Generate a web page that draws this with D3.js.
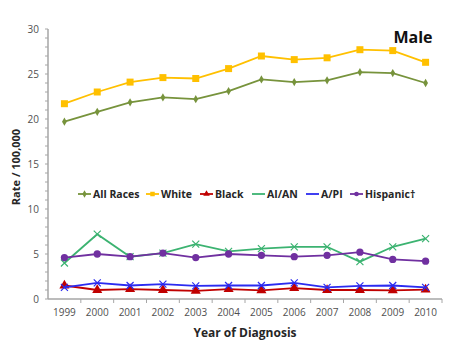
<!DOCTYPE html>
<html>
<head>
<meta charset="utf-8">
<script src="https://cdn.jsdelivr.net/npm/d3@7"></script>
<style>
  body { margin: 0; background: #fff; }
  svg { display: block; font-family: "Open Sans", "Liberation Sans", sans-serif; }
</style>
</head>
<body>
<div id="main"></div>
<script>
// incidence rates by race/ethnicity, males
var years = ["1999","2000","2001","2002","2003","2004","2005","2006","2007","2008","2009","2010"];
var allRaces = [19.7, 20.8, 21.85, 22.4, 22.2, 23.1, 24.4, 24.1, 24.3, 25.2, 25.1, 24.0];
var white    = [21.7, 23.0, 24.1, 24.6, 24.5, 25.6, 27.0, 26.6, 26.8, 27.7, 27.6, 26.3];
var black    = [1.5, 1.0, 1.1, 1.0, 0.9, 1.1, 0.95, 1.2, 1.0, 1.0, 0.95, 1.05];
var aian     = [4.0, 7.2, 4.7, 5.1, 6.1, 5.3, 5.6, 5.8, 5.8, 4.15, 5.8, 6.7];
var api      = [1.3, 1.8, 1.5, 1.65, 1.45, 1.5, 1.5, 1.8, 1.3, 1.45, 1.5, 1.3];
var hispanic = [4.6, 5.0, 4.7, 5.1, 4.6, 5.0, 4.85, 4.7, 4.85, 5.2, 4.4, 4.2];
var yTicks = [0, 5, 10, 15, 20, 25, 30];

var series = [
  {name: "All Races", values: allRaces, color: "#77933c", marker: "diamond"},
  {name: "White", values: white, color: "#ffc000", marker: "square"},
  {name: "Black", values: black, color: "#c00000", marker: "triangle"},
  {name: "AI/AN", values: aian, color: "#3cb371", marker: "cross"},
  {name: "A/PI", values: api, color: "#2b2bf0", marker: "cross"},
  {name: "Hispanic\u2020", values: hispanic, color: "#7030a0", marker: "circle"}
];

var width = 455, height = 349;
var margin = {top: 29, right: 13, bottom: 50, left: 48};

var svg = d3.select("#main").append("svg")
  .attr("width", width)
  .attr("height", height);

var x = d3.scaleBand()
  .domain(years)
  .range([margin.left, width - margin.right]);

var y = d3.scaleLinear()
  .domain([0, 30])
  .range([height - margin.bottom, margin.top]);

// y axis with minor ticks every unit
var yAxis = svg.append("g").attr("transform", "translate(" + margin.left + ",0)");
yAxis.append("line")
  .attr("x1", 0).attr("x2", 0)
  .attr("y1", y(0)).attr("y2", y(30))
  .attr("stroke", "#a6a6a6").attr("stroke-width", 1.5);
yAxis.selectAll("line.minor")
  .data(d3.range(0, 31))
  .join("line")
  .attr("class", "minor")
  .attr("x1", -3).attr("x2", 0)
  .attr("y1", d => y(d)).attr("y2", d => y(d))
  .attr("stroke", "#a6a6a6");
yAxis.selectAll("text")
  .data(yTicks)
  .join("text")
  .attr("x", -9)
  .attr("y", d => y(d))
  .attr("dy", "0.35em")
  .attr("text-anchor", "end")
  .attr("font-size", 10)
  .attr("fill", "#505050")
  .text(d => d);

// x axis, ticks sit between categories
var xAxis = svg.append("g").attr("transform", "translate(0," + y(0) + ")");
xAxis.append("line")
  .attr("x1", margin.left).attr("x2", width - margin.right)
  .attr("stroke", "#a6a6a6").attr("stroke-width", 1.5);
xAxis.selectAll("line.tick")
  .data(years)
  .join("line")
  .attr("class", "tick")
  .attr("x1", d => x(d) + x.bandwidth())
  .attr("x2", d => x(d) + x.bandwidth())
  .attr("y1", 0).attr("y2", 4)
  .attr("stroke", "#a6a6a6");
xAxis.selectAll("text")
  .data(years)
  .join("text")
  .attr("x", d => x(d) + x.bandwidth() / 2)
  .attr("y", 17)
  .attr("text-anchor", "middle")
  .attr("font-size", 10)
  .attr("fill", "#505050")
  .text(d => d);

// axis titles
svg.append("text")
  .attr("transform", "translate(20," + (y(15) + 3) + ") rotate(-90)")
  .attr("text-anchor", "middle")
  .attr("font-size", 11)
  .attr("font-weight", "bold")
  .attr("fill", "#262626")
  .text("Rate / 100,000");

svg.append("text")
  .attr("x", 245)
  .attr("y", 337)
  .attr("text-anchor", "middle")
  .attr("font-size", 12)
  .attr("font-weight", "bold")
  .attr("fill", "#262626")
  .text("Year of Diagnosis");

svg.append("text")
  .attr("x", 413)
  .attr("y", 43)
  .attr("text-anchor", "middle")
  .attr("font-size", 16)
  .attr("font-weight", "bold")
  .attr("fill", "#111")
  .text("Male");

// marker shapes
function drawMarker(g, type, color, size) {
  if (type === "cross") {
    var s = size * 0.5;
    g.append("path")
      .attr("d", "M" + -s + "," + -s + "L" + s + "," + s + "M" + -s + "," + s + "L" + s + "," + -s)
      .attr("stroke", color).attr("stroke-width", 1.2).attr("fill", "none");
  } else {
    var sym = {diamond: d3.symbolDiamond, square: d3.symbolSquare, triangle: d3.symbolTriangle, circle: d3.symbolCircle}[type];
    var area = {diamond: size * size * 0.8, square: size * size, triangle: size * size * 0.9, circle: size * size * 0.85}[type];
    g.append("path")
      .attr("d", d3.symbol().type(sym).size(area)())
      .attr("fill", color);
  }
}

var line = d3.line()
  .x((d, i) => x(years[i]) + x.bandwidth() / 2)
  .y(d => y(d));

series.forEach(function(s) {
  var g = svg.append("g");
  g.append("path")
    .datum(s.values)
    .attr("d", line)
    .attr("fill", "none")
    .attr("stroke", s.color)
    .attr("stroke-width", 1.8);
  s.values.forEach(function(v, i) {
    var m = g.append("g")
      .attr("transform", "translate(" + (x(years[i]) + x.bandwidth() / 2) + "," + y(v) + ")");
    drawMarker(m, s.marker, s.color, s.name === "All Races" ? 5 : 7);
  });
});

// legend
var legendX = [78, 146, 200, 252, 306, 350];
var legend = svg.append("g").attr("transform", "translate(0,194)");
series.forEach(function(s, i) {
  var g = legend.append("g").attr("transform", "translate(" + legendX[i] + ",0)");
  g.append("line")
    .attr("x1", 0).attr("x2", 13)
    .attr("stroke", s.color).attr("stroke-width", 1.8);
  if (s.marker !== "cross") {
    var m = g.append("g").attr("transform", "translate(6.5,0)");
    drawMarker(m, s.marker, s.color, 4.5);
  }
  g.append("text")
    .attr("x", 15)
    .attr("dy", "0.35em")
    .attr("font-size", 10.5)
    .attr("font-weight", "bold")
    .attr("fill", "#262626")
    .text(s.name);
});
</script>
</body>
</html>
